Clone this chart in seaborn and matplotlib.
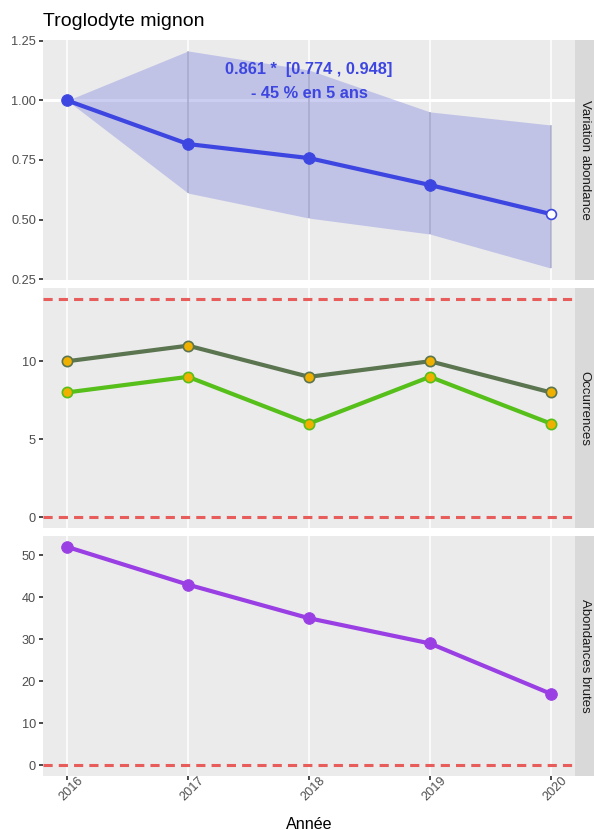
import matplotlib
matplotlib.use("Agg")
import matplotlib.pyplot as plt
import matplotlib.transforms as mtransforms
import pandas as pd
import seaborn as sns

sns.set_theme(style="darkgrid")
plt.rcParams["font.family"] = ["Liberation Sans", "DejaVu Sans"]

# data
years = [2016, 2017, 2018, 2019, 2020]
variation = [1.0, 0.817, 0.758, 0.645, 0.523]
var_low = [1.0, 0.611, 0.506, 0.439, 0.296]
var_high = [1.0, 1.208, 1.128, 0.952, 0.897]
occ_total = [10, 11, 9, 10, 8]
occ_sites = [8, 9, 6, 9, 6]
abundance = [52, 43, 35, 29, 17]
occ_max = 14
strip_labels = ["Variation abondance", "Occurrences", "Abondances brutes"]
trend_text = "0.861 *  [0.774 , 0.948]"
change_text = "- 45 % en 5 ans"

BLUE = "#3d46e0"
DARK = "#5b7550"
GREEN = "#56bf1a"
ORANGE = "#f0b000"
PURPLE = "#9a3fe3"
RED = "#e85c5c"
PANEL_BG = "#ebebeb"
STRIP_BG = "#d9d9d9"
TICK_SIZE = 9.2

W, H = 594, 830
fig = plt.figure(figsize=(W / 100, H / 100), dpi=100)

left_px, right_px, strip_right = 43, 575, 594
panels_px = [(40, 280), (288, 528), (536, 776)]


def add_panel(top, bottom, show_x):
    ax = fig.add_axes([left_px / W, 1 - bottom / H, (right_px - left_px) / W, (bottom - top) / H])
    sax = fig.add_axes([right_px / W, 1 - bottom / H, (strip_right - right_px) / W, (bottom - top) / H])
    ax.set_facecolor(PANEL_BG)
    for s in ax.spines.values():
        s.set_visible(False)
    ax.grid(False)
    for y in years:
        ax.axvline(y, color="white", linewidth=1.1, zorder=0)
    ax.set_xlim(2015.8, 2020.2)
    ax.set_xticks(years)
    ax.tick_params(axis="y", length=3, color="#333333", labelsize=TICK_SIZE, labelcolor="#4d4d4d", pad=2, left=True)
    ax.tick_params(axis="x", length=3 if show_x else 0, color="#333333", labelsize=TICK_SIZE,
                   labelcolor="#4d4d4d", pad=2, bottom=show_x)
    sax.set_facecolor(STRIP_BG)
    sax.set_xticks([])
    sax.set_yticks([])
    for s in sax.spines.values():
        s.set_visible(False)
    return ax, sax


axes = [add_panel(t, b, i == 2) for i, (t, b) in enumerate(panels_px)]

# panel 1 : variation
ax, sax = axes[0]
df1 = pd.DataFrame({"year": years, "value": variation, "low": var_low, "high": var_high})
ax.axhline(1.0, color="white", linewidth=2.2, zorder=0.5)
ax.fill_between(df1["year"], df1["low"], df1["high"], color="#8c92e0", alpha=0.45, linewidth=0, zorder=1)
ax.vlines(df1["year"], df1["low"], df1["high"], color="#7a7a9a", alpha=0.45, linewidth=1.1, zorder=1.5)
sns.lineplot(data=df1, x="year", y="value", color=BLUE, linewidth=3, ax=ax, zorder=3)
sns.scatterplot(data=df1.iloc[:-1], x="year", y="value", color=BLUE, s=70, edgecolor=BLUE, ax=ax, zorder=4)
sns.scatterplot(data=df1.iloc[-1:], x="year", y="value", color="white", s=50, edgecolor=BLUE,
                linewidth=1.2, ax=ax, zorder=4)
ax.set_ylim(0.246, 1.254)
ax.set_yticks([0.25, 0.50, 0.75, 1.00, 1.25])
ax.set_yticklabels(["0.25", "0.50", "0.75", "1.00", "1.25"])
ax.text(2018, 1.13, trend_text, color=BLUE, fontsize=11.8, fontweight="bold", ha="center", va="center", zorder=5)
ax.text(2018, 1.03, change_text, color=BLUE, fontsize=11.8, fontweight="bold", ha="center", va="center", zorder=5)
ax.set_xticklabels([])
ax.set_xlabel("")
ax.set_ylabel("")

# panel 2 : occurrences
ax, sax = axes[1]
df2 = pd.DataFrame({"year": years, "total": occ_total, "sites": occ_sites})
ax.axhline(0, color=RED, linewidth=2.2, linestyle=(0, (3, 2)), zorder=1)
ax.axhline(occ_max, color=RED, linewidth=2.2, linestyle=(0, (3, 2)), zorder=1)
sns.lineplot(data=df2, x="year", y="total", color=DARK, linewidth=3, ax=ax, zorder=3)
sns.lineplot(data=df2, x="year", y="sites", color=GREEN, linewidth=3, ax=ax, zorder=3)
sns.scatterplot(data=df2, x="year", y="total", color=ORANGE, edgecolor=DARK, linewidth=1.2, s=55, ax=ax, zorder=4)
sns.scatterplot(data=df2, x="year", y="sites", color=ORANGE, edgecolor=GREEN, linewidth=1.2, s=55, ax=ax, zorder=4)
ax.set_ylim(-0.7, 14.7)
ax.set_yticks([0, 5, 10])
ax.set_xticklabels([])
ax.set_xlabel("")
ax.set_ylabel("")

# panel 3 : raw abundance
ax, sax = axes[2]
df3 = pd.DataFrame({"year": years, "abund": abundance})
ax.axhline(0, color=RED, linewidth=2.2, linestyle=(0, (3, 2)), zorder=1)
sns.lineplot(data=df3, x="year", y="abund", color=PURPLE, linewidth=3, ax=ax, zorder=3)
sns.scatterplot(data=df3, x="year", y="abund", color=PURPLE, edgecolor=PURPLE, s=70, ax=ax, zorder=4)
ax.set_ylim(-2.6, 54.6)
ax.set_yticks([0, 10, 20, 30, 40, 50])
ax.set_xticklabels([str(y) for y in years], rotation=45, ha="center", va="center")
shift = mtransforms.ScaledTranslation(4.5 / 100, -5.5 / 100, fig.dpi_scale_trans)
for lab in ax.get_xticklabels():
    lab.set_transform(lab.get_transform() + shift)
ax.set_xlabel("")
ax.set_ylabel("")

for (ax, sax), label in zip(axes, strip_labels):
    sax.text(0.5, 0.5, label, rotation=-90, ha="center", va="center", fontsize=9.5,
             color="#1a1a1a", transform=sax.transAxes)

fig.text(309 / W, 1 - 824 / H, "Année", ha="center", va="center", fontsize=11.6, color="black")
fig.text(43 / W, 1 - 21 / H, "Troglodyte mignon", ha="left", va="center", fontsize=14, color="black")

fig.savefig("out.png", dpi=100)
